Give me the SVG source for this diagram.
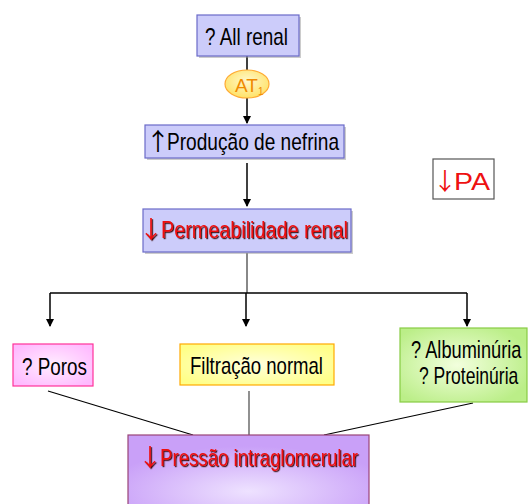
<svg xmlns="http://www.w3.org/2000/svg" width="528" height="504" viewBox="0 0 528 504">
<defs>
<marker id="ah" markerWidth="8" markerHeight="10" refX="7" refY="4" orient="auto" markerUnits="userSpaceOnUse">
<path d="M0,0 L8,4 L0,8 Z" fill="#000"/>
</marker>
<radialGradient id="gPink" cx="0.5" cy="0.5" r="0.6"><stop offset="0" stop-color="#ffeeff"/><stop offset="1" stop-color="#ffbbff"/></radialGradient>
<radialGradient id="gYellow" cx="0.5" cy="0.5" r="0.6"><stop offset="0" stop-color="#ffffdd"/><stop offset="1" stop-color="#ffff88"/></radialGradient>
<radialGradient id="gGreen" cx="0.45" cy="0.5" r="0.6"><stop offset="0" stop-color="#f2ffdd"/><stop offset="1" stop-color="#bbee88"/></radialGradient>
<radialGradient id="gPurple" cx="0.5" cy="0.75" r="0.6"><stop offset="0" stop-color="#eee2ff"/><stop offset="1" stop-color="#c9a0f8"/></radialGradient>
<radialGradient id="gAT" cx="0.5" cy="0.4" r="0.6"><stop offset="0" stop-color="#fff8cc"/><stop offset="1" stop-color="#ffe266"/></radialGradient>
<filter id="ds" x="-10%" y="-20%" width="120%" height="140%">
<feDropShadow dx="1.2" dy="1.2" stdDeviation="0.3" flood-color="#300" flood-opacity="0.9"/>
</filter>
</defs>
<style>
.t{font-family:"Liberation Sans",Arial,sans-serif;font-size:24px;fill:#000}
.ar{font-family:"Noto Sans CJK JP","Noto Sans CJK SC",sans-serif;font-size:24px;text-anchor:middle;fill:#000}
.red{fill:#ee1111;filter:url(#ds)}
.blue{fill:#ccccfa;stroke:#6a6ac8;stroke-width:1.2}
.sh{fill:#999;opacity:0.5}
.ln{stroke:#000;stroke-width:1.5;fill:none}
</style>

<g id="connectors">
<line class="ln" x1="247" y1="56" x2="247" y2="70"/>
<line class="ln" x1="247" y1="98" x2="247" y2="123" marker-end="url(#ah)"/>
<line class="ln" x1="247" y1="163" x2="247" y2="206" marker-end="url(#ah)"/>
<line x1="247" y1="253" x2="247" y2="293" stroke="#888" stroke-width="2"/>
<line class="ln" x1="50" y1="293" x2="467" y2="293"/>
<line class="ln" x1="50" y1="293" x2="50" y2="326" marker-end="url(#ah)"/>
<line class="ln" x1="246" y1="293" x2="246" y2="326" marker-end="url(#ah)"/>
<line class="ln" x1="467" y1="293" x2="467" y2="326" marker-end="url(#ah)"/>
<line x1="48" y1="391" x2="193" y2="435" stroke="#000" stroke-width="1.2"/>
<line x1="249" y1="391" x2="249" y2="435" stroke="#555" stroke-width="1.3"/>
<line x1="473" y1="403" x2="324" y2="435" stroke="#000" stroke-width="1.2"/>
</g>

<g id="node-all-renal">
<rect class="sh" x="199" y="17" width="102" height="41"/>
<rect class="blue" x="197" y="15" width="102" height="41"/>
<text class="t" x="205" y="45" textLength="83" lengthAdjust="spacingAndGlyphs">? All renal</text>
</g>

<g id="node-at1">
<ellipse cx="247" cy="84" rx="22" ry="14" fill="url(#gAT)" stroke="#ffaa33" stroke-width="1.2"/>
<text x="235" y="92" font-family="Liberation Sans,Arial,sans-serif" font-size="19" fill="#f08a00">AT<tspan font-size="10" dy="3">1</tspan></text>
</g>

<g id="node-producao">
<rect class="sh" x="147" y="127" width="199" height="33"/>
<rect class="blue" x="145" y="125" width="199" height="33"/>
<text class="ar" x="158" y="150">↑</text>
<text class="t" x="167" y="150" textLength="172" lengthAdjust="spacingAndGlyphs">Produção de nefrina</text>
</g>

<g id="node-permeabilidade">
<rect class="sh" x="145" y="211" width="208" height="43"/>
<rect class="blue" x="143" y="209" width="208" height="43"/>
<text class="ar red" x="151" y="238">↓</text>
<text class="t red" x="161" y="238" textLength="187" lengthAdjust="spacingAndGlyphs">Permeabilidade renal</text>
</g>

<g id="node-pa">
<rect x="433" y="159" width="61" height="40" fill="#fff" stroke="#555" stroke-width="1.2"/>
<text class="ar" x="445" y="190" style="fill:#ee1111">↓</text>
<text x="454" y="190" font-family="Liberation Sans,Arial,sans-serif" font-size="24" fill="#ee1111" textLength="36" lengthAdjust="spacingAndGlyphs">PA</text>
</g>

<g id="node-poros">
<rect x="13" y="344" width="80" height="42" fill="url(#gPink)" stroke="#ff3399" stroke-width="1.2"/>
<text class="t" x="22" y="375" textLength="65" lengthAdjust="spacingAndGlyphs">? Poros</text>
</g>

<g id="node-filtracao">
<rect x="180" y="344" width="154" height="41" fill="url(#gYellow)" stroke="#ffaa00" stroke-width="1.2"/>
<text class="t" x="190" y="374" textLength="133" lengthAdjust="spacingAndGlyphs">Filtração normal</text>
</g>

<g id="node-albuminuria">
<rect x="400" y="328" width="127" height="74" fill="url(#gGreen)" stroke="#88cc44" stroke-width="1.2"/>
<text class="t" transform="translate(411,358) scale(0.76,1)">? Albuminúria</text>
<text class="t" transform="translate(419,384) scale(0.73,1)">? Proteinúria</text>
</g>

<g id="node-pressao">
<rect x="128" y="435" width="241" height="75" fill="url(#gPurple)" stroke="#994477" stroke-width="1.2"/>
<text class="ar red" x="150" y="466">↓</text>
<text class="t red" x="160" y="466" textLength="198" lengthAdjust="spacingAndGlyphs">Pressão intraglomerular</text>
</g>
</svg>
